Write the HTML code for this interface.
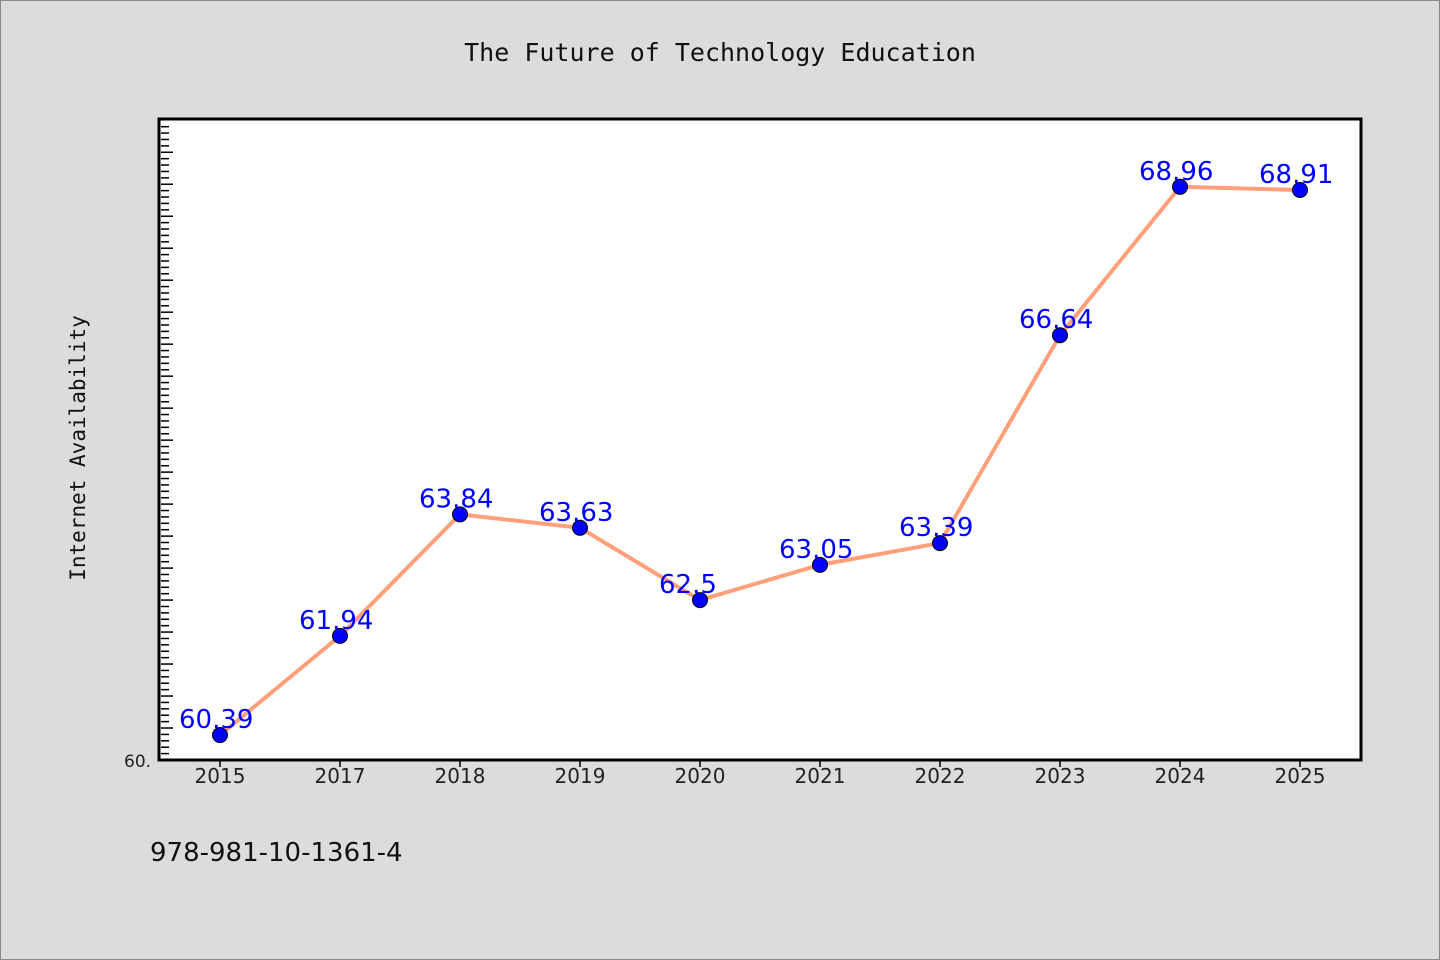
<!DOCTYPE html>
<html><head><meta charset="utf-8"><style>
body{margin:0;background:#dcdcdc;}
svg{display:block;}
</style></head><body>
<svg id="chart" width="1440" height="960" xmlns="http://www.w3.org/2000/svg">
<rect x="0.5" y="0.5" width="1439" height="959" fill="#dcdcdc" stroke="#888"/>
<text x="720" y="61" text-anchor="middle" font-family="DejaVu Sans Mono, Liberation Mono, monospace" font-size="25" fill="#111">The Future of Technology Education</text>
<text transform="translate(85,448) rotate(-90)" text-anchor="middle" font-family="DejaVu Sans Mono, Liberation Mono, monospace" font-size="21" fill="#111">Internet Availability</text>
<rect x="159" y="119" width="1202" height="641" fill="#fff" stroke="#000" stroke-width="3"/>
<text x="124" y="767" font-family="DejaVu Sans, Liberation Sans, sans-serif" font-size="17" fill="#222">60.</text>
<text x="150" y="861" font-family="DejaVu Sans, Liberation Sans, sans-serif" font-size="26" fill="#111">978-981-10-1361-4</text>
<g id="ticks"></g><g id="marks"></g>
</svg>
<script>
const categories=["2015","2017","2018","2019","2020","2021","2022","2023","2024","2025"];
const values=[60.39,61.94,63.84,63.63,62.5,63.05,63.39,66.64,68.96,68.91];
const labels=["60.39","61.94","63.84","63.63","62.5","63.05","63.39","66.64","68.96","68.91"];
const NS="http://www.w3.org/2000/svg";
const yMin=60,yMax=70.02,plotTop=119,plotBot=760;
const y=v=>plotBot-(v-yMin)/(yMax-yMin)*(plotBot-plotTop);
const x=i=>220+i*120;
function mk(t,a,p){const e=document.createElementNS(NS,t);for(const k in a)e.setAttribute(k,a[k]);p.appendChild(e);return e;}
const tg=document.getElementById('ticks'),mg=document.getElementById('marks');
for(let k=1;k<=100;k++){const v=yMin+k*0.1;const yy=y(v);if(yy<plotTop+3)break;const major=k%5===0;
const l=mk('line',{x1:161,x2:major?173:169,y1:yy,y2:yy,stroke:'#000','stroke-width':1.5},tg);

}
categories.forEach((c,i)=>{const l=mk('line',{x1:x(i),x2:x(i),y1:761,y2:767,stroke:'#000','stroke-width':1.5},tg);


const t=mk('text',{x:x(i),y:783,'text-anchor':'middle','font-family':'DejaVu Sans, Liberation Sans, sans-serif','font-size':20,fill:'#222'},tg);t.textContent=c;

});
const pl=mk('polyline',{points:values.map((v,i)=>x(i)+','+y(v)).join(' '),fill:'none',stroke:'#ffa07a','stroke-width':4},mg);


values.forEach((v,i)=>{const c=mk('circle',{cx:x(i),cy:y(v),r:7.5,fill:'#0000ff',stroke:'#000','stroke-width':1},mg);


const t=mk('text',{x:x(i)-41,y:y(v)-7,'font-family':'DejaVu Sans, Liberation Sans, sans-serif','font-size':26,fill:'#0000ff'},mg);t.textContent=labels[i];

});
</script>
</body></html>
